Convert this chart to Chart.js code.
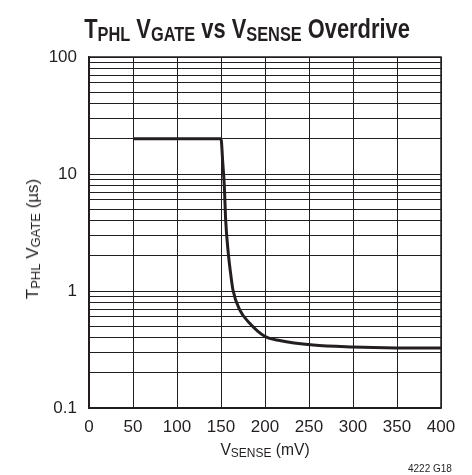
<!DOCTYPE html>
<html>
<head>
<meta charset="utf-8">
<script src="https://cdn.jsdelivr.net/npm/chart.js@4"></script>
<style>
  html, body { margin: 0; padding: 0; background: #fff; }
  #wrap { position: relative; width: 472px; height: 475px; overflow: hidden; }
  #c { position: absolute; left: 0; top: 0; }
  .t { position: absolute; font-family: 'Liberation Sans Narrow', 'Arial Narrow', 'Liberation Sans', sans-serif; color: #231f20; white-space: nowrap; }
  #title { left: 0; width: 494px; top: 13px; text-align: center; font-size: 28px; font-weight: bold; transform: scaleX(0.78); transform-origin: 247px 50%; }
  #title .s { font-size: 21px; vertical-align: -3px; }
  #xt { left: 0; width: 530px; top: 440px; text-align: center; font-size: 17px; transform: scaleX(0.92); transform-origin: 265px 50%; }
  #xt .s, #yt .s { font-size: 13px; vertical-align: -2px; }
  #yt { left: 33px; top: 239px; font-size: 17px; transform: translate(-50%, -50%) rotate(-90deg); }
  #note { left: 408px; top: 463px; font-size: 10px; }
</style>
</head>
<body>
<div id="wrap">
  <canvas id="c" width="472" height="475"></canvas>
  <div class="t" id="title">T<span class="s">PHL</span> V<span class="s">GATE</span> vs V<span class="s">SENSE</span> Overdrive</div>
  <div class="t" id="yt">T<span class="s">PHL</span> V<span class="s">GATE</span> (µs)</div>
  <div class="t" id="xt">V<span class="s">SENSE</span> (mV)</div>
  <div class="t" id="note">4222 G18</div>
</div>
<script>
const vsense = [50, 150, 152, 153.8, 155.3, 158.3, 161, 163.6, 171.3, 182.6, 199.7, 216.7, 254.6, 300, 349.3, 400];
const tphl   = [20, 20, 12.5, 7.8, 4.04, 2.1, 1.4, 1.02, 0.69, 0.53, 0.41, 0.377, 0.345, 0.332, 0.326, 0.325];
const xTicks = [0, 50, 100, 150, 200, 250, 300, 350, 400];
const yMajor = [0.1, 1, 10, 100];
const yGrid = [];
for (const d of [0.1, 1, 10]) for (let m = 1; m < 10; m++) yGrid.push(+(d * m).toPrecision(3));
yGrid.push(100);

const FONT = "'Liberation Sans Narrow', 'Arial Narrow', 'Liberation Sans', sans-serif";
const ink = '#231f20';

new Chart(document.getElementById('c'), {
  type: 'line',
  data: {
    datasets: [{
      data: vsense.map((v, i) => ({ x: v, y: tphl[i] })),
      borderColor: ink,
      borderWidth: 3,
      pointRadius: 0,
      cubicInterpolationMode: 'monotone',
      fill: false
    }]
  },
  options: {
    responsive: false,
    animation: false,
    devicePixelRatio: 1,
    layout: { padding: { left: 49, right: 31, top: 57, bottom: 37 } },
    plugins: { legend: { display: false }, title: { display: false }, tooltip: { enabled: false } },
    scales: {
      x: {
        type: 'linear', min: 0, max: 400,
        afterBuildTicks: s => { s.ticks = xTicks.map(v => ({ value: v })); },
        afterFit: s => { s.height = 30; },
        grid: { color: ink, lineWidth: 1, drawTicks: false },
        border: { color: ink, width: 1.5 },
        ticks: { color: ink, font: { family: FONT, size: 17 }, padding: 9, maxRotation: 0 }
      },
      y: {
        type: 'logarithmic', min: 0.1, max: 100,
        afterBuildTicks: s => { s.ticks = yGrid.map(v => ({ value: v })); },
        afterFit: s => { s.width = 40; },
        grid: { color: ink, lineWidth: 1, drawTicks: false },
        border: { color: ink, width: 1.5 },
        ticks: {
          color: ink, font: { family: FONT, size: 17 }, padding: 12, autoSkip: false,
          callback: v => yMajor.includes(v) ? String(v) : ''
        }
      }
    }
  },
  plugins: [{
    id: 'frame',
    afterDraw(chart) {
      const { ctx, chartArea: a } = chart;
      ctx.save();
      ctx.strokeStyle = ink; ctx.lineWidth = 1.5;
      ctx.strokeRect(a.left, a.top, a.right - a.left, a.bottom - a.top);
      ctx.restore();
    }
  }]
});
</script>
</body>
</html>
